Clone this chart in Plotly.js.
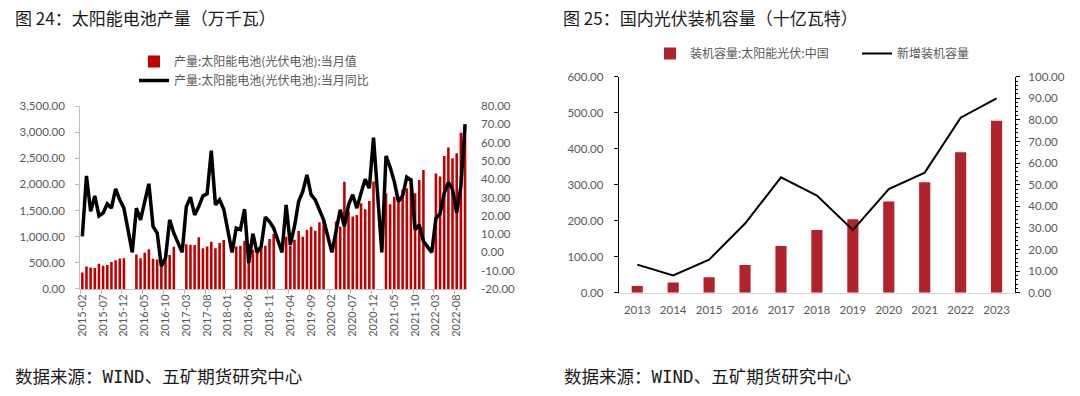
<!DOCTYPE html>
<html>
<head>
<meta charset="utf-8">
<script src="https://cdn.plot.ly/plotly-3.0.1.min.js"></script>
<style>html,body{margin:0;padding:0;background:#fff;}#chart{width:1080px;height:396px;}</style>
</head>
<body>
<div id="chart"></div>
<script>
// ---------- Chart 24: solar cell production ----------
const months = [
  "2015-02","2015-03","2015-04","2015-05","2015-06","2015-07","2015-08","2015-09","2015-10","2015-11","2015-12",
  "2016-01","2016-02","2016-03","2016-04","2016-05","2016-06","2016-07","2016-08","2016-09","2016-10","2016-11","2016-12",
  "2017-01","2017-02","2017-03","2017-04","2017-05","2017-06","2017-07","2017-08","2017-09","2017-10","2017-11","2017-12",
  "2018-01","2018-02","2018-03","2018-04","2018-05","2018-06","2018-07","2018-08","2018-09","2018-10","2018-11","2018-12",
  "2019-01","2019-02","2019-03","2019-04","2019-05","2019-06","2019-07","2019-08","2019-09","2019-10","2019-11","2019-12",
  "2020-01","2020-02","2020-03","2020-04","2020-05","2020-06","2020-07","2020-08","2020-09","2020-10","2020-11","2020-12",
  "2021-01","2021-02","2021-03","2021-04","2021-05","2021-06","2021-07","2021-08","2021-09","2021-10","2021-11","2021-12",
  "2022-01","2022-02","2022-03","2022-04","2022-05","2022-06","2022-07","2022-08","2022-09","2022-10"
];
const outputMonthly = [
  315,430,410,400,485,445,460,515,550,585,590,
  null,null,660,590,695,760,580,565,560,600,650,810,
  null,null,855,845,840,990,780,815,905,780,880,935,
  null,null,815,825,925,860,750,760,800,825,955,1050,
  null,null,1000,830,940,1110,1000,1130,1190,1115,1275,1330,
  null,null,1290,1190,2050,1480,1385,1415,1640,1525,1685,2055,
  null,null,1830,1620,1765,1770,1895,1925,2120,1830,2085,2275,
  null,null,2210,2150,2545,2705,2500,2595,2990,3150
];
const outputYoY = [
  8.7,41.8,22.4,30.9,20,21.5,26.5,24.2,34.7,28.7,24.2,
  null,0,24.2,17.8,27.8,37.5,14.2,10.5,-7.6,-3.1,17.8,10.5,
  null,0,25,30.2,20.5,25,30.9,32,55.6,26,28.7,23.6,
  null,0,13.3,12.4,23.6,-5.8,10.2,0,3.3,19.3,16.9,13.3,
  null,0,26,4.2,14.2,27.8,33.3,42.4,31.5,28.7,23.6,17.8,
  null,0,12.4,23.3,14.2,26,31.5,24.2,32.4,40,35.1,62.7,
  null,0,52.7,46.5,38.7,27.8,30.9,41.1,39.6,12.4,15.1,6,
  null,0,18.7,21.1,32.4,38.2,34.5,21.5,36,70
];
const yoyTickVals = [-20,-10,0,10,20,30,40,50,60,70,80];
const yoyTickText = ["-20.00","-10.00","0.00","10.00","20.00","30.00","40.00","50.00","60.00","70.00","80.00"];

// ---------- Chart 25: domestic PV installed capacity ----------
const years = ["2013","2014","2015","2016","2017","2018","2019","2020","2021","2022","2023"];
const capacityTotal = [18.5,28,43,77,130,174,204,253,307,390,478];
const capacityNew = [13,8,15.3,32,53.4,45,29,48,55.6,81,90];

const cjk = '"Noto Sans CJK SC", sans-serif';
const num = 'Lato, "Noto Sans CJK SC", sans-serif';
const grey = '#595959';

const traces = [
  {type:'bar', x:months, y:outputMonthly, xaxis:'x', yaxis:'y', width:0.62,
   marker:{color:'#c00000'}, name:'产量:太阳能电池(光伏电池):当月值', legend:'legend'},
  {type:'scatter', mode:'lines', x:months, y:outputYoY, xaxis:'x', yaxis:'y2', connectgaps:true,
   line:{color:'#000000', width:3.5}, name:'产量:太阳能电池(光伏电池):当月同比', legend:'legend'},
  {type:'bar', x:years, y:capacityTotal, xaxis:'x2', yaxis:'y3', width:0.31,
   marker:{color:'#b0232a'}, name:'装机容量:太阳能光伏:中国', legend:'legend2'},
  {type:'scatter', mode:'lines', x:years, y:capacityNew, xaxis:'x2', yaxis:'y4',
   line:{color:'#000000', width:2}, name:'新增装机容量', legend:'legend2'}
];

const layout = {
  width:1080, height:396, margin:{l:0,r:0,t:0,b:0},
  paper_bgcolor:'#ffffff', plot_bgcolor:'rgba(0,0,0,0)',
  font:{family:num, size:11.5, color:grey},
  showlegend:true,
  xaxis:{domain:[0.0743,0.4325], anchor:'y', type:'category', range:[-0.5,92.5],
    tickmode:'linear', tick0:0, dtick:5, tickson:'boundaries', ticks:'outside', ticklen:4,
    tickcolor:'#bfbfbf', tickangle:-90, showline:true, linecolor:'#bfbfbf', linewidth:1,
    showgrid:false, zeroline:false, tickfont:{size:11, color:grey, family:num}},
  yaxis:{domain:[0.2702,0.7323], anchor:'x', range:[0,3500], dtick:500, tickformat:',.2f',
    showline:true, linecolor:'#bfbfbf', ticks:'outside', ticklen:4, tickcolor:'#bfbfbf',
    showgrid:false, zeroline:false, ticklabelstandoff:8},
  yaxis2:{overlaying:'y', side:'right', anchor:'x', range:[-20,80], tickmode:'array',
    tickvals:yoyTickVals, ticktext:yoyTickText, showline:false, ticks:'',
    showgrid:false, zeroline:false, ticklabelstandoff:13},
  xaxis2:{domain:[0.5734,0.9394], anchor:'y3', type:'category', showline:true,
    linecolor:'#d9d9d9', linewidth:1.5, ticks:'', showgrid:false, zeroline:false,
    ticklabelstandoff:6, tickfont:{size:11.5}},
  yaxis3:{domain:[0.2609,0.8063], anchor:'x2', range:[0,600], dtick:100, tickformat:'.2f',
    showline:true, linecolor:'#000000', linewidth:1.5, ticks:'outside', ticklen:4,
    tickcolor:'#000000', showgrid:false, zeroline:false, ticklabelstandoff:8},
  yaxis4:{overlaying:'y3', side:'right', anchor:'x2', range:[0,100], dtick:10, tickformat:'.2f',
    showline:true, linecolor:'#000000', linewidth:1.5, ticks:'outside', ticklen:4,
    tickcolor:'#000000', minor:{dtick:2, ticks:'outside', ticklen:2, tickcolor:'#000000'},
    showgrid:false, zeroline:false, ticklabelstandoff:6},
  legend:{x:134/1080, xanchor:'left', y:1-47/396, yanchor:'top', orientation:'v',
    bgcolor:'rgba(0,0,0,0)', font:{family:cjk, size:12, color:grey}, tracegroupgap:0},
  legend2:{x:650/1080, xanchor:'left', y:1-39/396, yanchor:'top', orientation:'h',
    entrywidth:162, entrywidthmode:'pixels',
    bgcolor:'rgba(0,0,0,0)', font:{family:cjk, size:12, color:grey}},
  annotations:[
    {text:'图 24：太阳能电池产量（万千瓦）', xref:'paper', yref:'paper', x:13/1080, y:1-17/396,
     xanchor:'left', yanchor:'middle', showarrow:false, font:{family:cjk, size:17, color:'#1a1a1a'}},
    {text:'图 25：国内光伏装机容量（十亿瓦特）', xref:'paper', yref:'paper', x:561/1080, y:1-17/396,
     xanchor:'left', yanchor:'middle', showarrow:false, font:{family:cjk, size:17, color:'#1a1a1a'}},
    {text:'数据来源：WIND、五矿期货研究中心', xref:'paper', yref:'paper', x:13/1080, y:1-377/396,
     xanchor:'left', yanchor:'middle', showarrow:false,
     font:{family:'"DejaVu Sans Mono", "Noto Sans CJK SC", monospace', size:17.5, color:'#1a1a1a'}},
    {text:'数据来源：WIND、五矿期货研究中心', xref:'paper', yref:'paper', x:562/1080, y:1-377/396,
     xanchor:'left', yanchor:'middle', showarrow:false,
     font:{family:'"DejaVu Sans Mono", "Noto Sans CJK SC", monospace', size:17.5, color:'#1a1a1a'}}
  ]
};

Plotly.newPlot('chart', traces, layout, {displayModeBar:false, staticPlot:true});
</script>
</body>
</html>
